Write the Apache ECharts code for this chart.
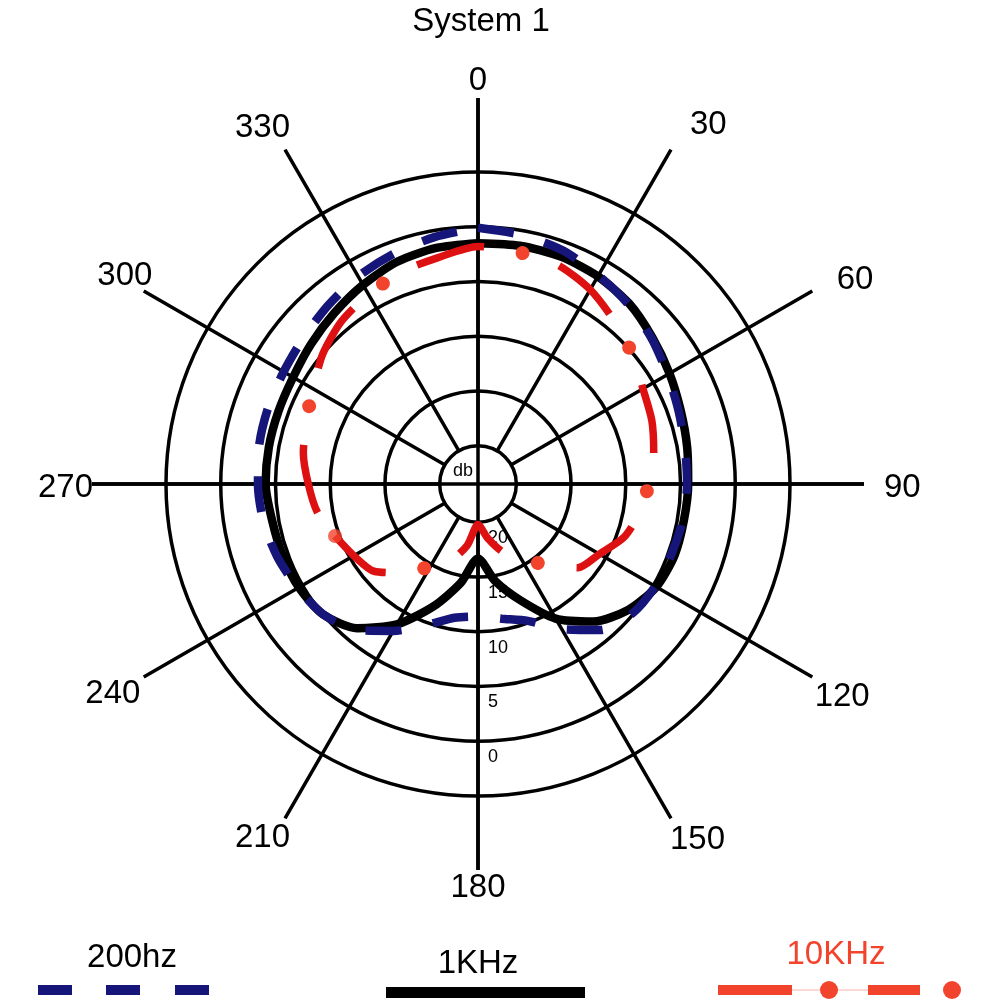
<!DOCTYPE html>
<html>
<head>
<meta charset="utf-8">
<script src="https://cdn.jsdelivr.net/npm/echarts@6/dist/echarts.min.js"></script>
<style>html,body{margin:0;padding:0;background:#fff}#c{width:1000px;height:1000px}</style>
</head>
<body>
<div id="c"></div>
<script>
// ---- data ----
const chartTitle = 'System 1';
const angles = [0,10,20,30,40,50,60,70,80,90,100,110,120,130,140,150,160,170,180,190,200,210,220,230,240,250,260,270,280,290,300,310,320,330,340,350,360];
const db200hz = [0.1,0.4,0.8,1.5,2.1,2.8,3.5,4.0,4.3,4.4,4.5,4.7,4.8,5.1,6.1,8.2,10.2,11.0,11.4,11.1,9.8,8.0,6.1,5.0,4.5,4.0,3.6,3.4,3.2,3.1,3.0,2.7,2.2,1.6,1.1,0.6,0.1];
const db1KHz  = [1.5,1.4,1.4,1.6,2.0,2.7,3.3,3.8,4.1,4.3,4.4,4.4,4.7,5.6,7.1,9.3,12.2,14.5,16.7,14.3,11.6,8.7,6.3,5.0,4.6,4.5,4.4,4.1,4.1,4.1,4.0,3.6,3.1,2.5,1.9,1.6,1.5];
const db10KHz = [1.8,2.0,2.2,3.0,4.1,5.1,6.1,6.6,7.2,7.9,8.5,9.3,10.7,11.6,13.9,15.6,16.9,18.5,19.8,17.8,16.0,14.8,12.9,11.1,10.4,9.6,8.6,8.0,7.3,6.8,6.1,5.0,4.1,3.5,2.9,2.5,1.8];
const seriesNames = ['200hz', '1KHz', '10KHz'];
const angleTickLabels = [0,30,60,90,120,150,180,210,240,270,300,330];
const dbTickLabels = [0,5,10,15,20];
const dbUnit = 'db';
const pattern10KHzStartAngle = 250;   // where the dash-dot pattern of the 10KHz trace begins

// ---- styling ----
const FONT = '"Liberation Sans", Arial, Helvetica, sans-serif';
const C = [478, 484];
const BLUE = '#15157a', RED = '#dd1111', RED_DOT = '#f2432d';
const BIG = 33;

const pairs = (vals, order) => order.map(i => [vals[i], angles[i]]);
const allIdx = angles.map((a, i) => i);
const s0 = angles.indexOf(pattern10KHzStartAngle);
const redIdx = allIdx.slice(s0, angles.length - 1).concat(allIdx.slice(0, s0 + 1));

// per-label padding [top,right,bottom,left] so that angle labels sit like the reference
const labelPad = {0:[0,0,11,0],30:[0,0,17,24],60:[0,0,0,33],90:[8,0,0,30],120:[8,0,0,11],150:[14,0,0,4],
  180:[11,0,0,0],210:[12,0,0,0],240:[5,12,0,0],270:[8,9,0,0],300:[0,0,4,0],330:[0,0,14,0]};
const angleRich = {};
angleTickLabels.forEach(v => {
  angleRich['a' + v] = { fontSize: BIG, fontFamily: FONT, color: '#000', padding: labelPad[v] };
});

const hiddenAxis = { axisLine:{show:false}, axisTick:{show:false}, axisLabel:{show:false}, splitLine:{show:false} };
const gridLine = { show:true, lineStyle:{ color:'#000', width:3.5 } };

const chart = echarts.init(document.getElementById('c'), null, { renderer:'canvas' });
chart.setOption({
  animation: false,
  backgroundColor: '#fff',
  title: {
    text: chartTitle, left: 476, textAlign: 'center', top: 0,
    textStyle: { fontFamily: FONT, fontSize: BIG, fontWeight: 'normal', color: '#000' }
  },
  polar: [
    { center: C, radius: [0, 386] },    // axes through centre
    { center: C, radius: [38, 386] },   // spokes + angle labels
    { center: C, radius: [0, 312] },    // data + rings
    { center: C, radius: [0, 312] }     // dB labels (downward)
  ],
  angleAxis: [
    Object.assign({ polarIndex:0, type:'value', min:0, max:360, interval:90, startAngle:90, clockwise:true }, hiddenAxis, { splitLine: gridLine }),
    Object.assign({ polarIndex:1, type:'value', min:0, max:360, interval:30, startAngle:90, clockwise:true }, hiddenAxis, {
      splitLine: gridLine,
      axisLabel: { show:true, margin:-10, color:'#000', fontFamily:FONT, fontSize:BIG, rich: angleRich,
        formatter: v => angleTickLabels.indexOf(v) >= 0 ? '{a' + v + '|' + v + '}' : '' }
    }),
    Object.assign({ polarIndex:2, type:'value', min:0, max:360, interval:30, startAngle:90, clockwise:true }, hiddenAxis),
    Object.assign({ polarIndex:3, type:'value', min:0, max:360, interval:30, startAngle:-90, clockwise:true }, hiddenAxis)
  ],
  radiusAxis: [
    Object.assign({ polarIndex:0, type:'value', min:0, max:1 }, hiddenAxis),
    Object.assign({ polarIndex:1, type:'value', min:0, max:1 }, hiddenAxis),
    Object.assign({ polarIndex:2, type:'value', inverse:true, min:-5, max:23.5, interval:5 }, hiddenAxis, { splitLine: gridLine }),
    Object.assign({ polarIndex:3, type:'value', inverse:true, min:-5, max:23.5, interval:5 }, hiddenAxis, {
      axisLabel: { show:true, margin:10, color:'#000', fontFamily:FONT, fontSize:18, align:'left', verticalAlign:'top', padding:[7,0,0,0],
        formatter: v => dbTickLabels.indexOf(v) >= 0 ? String(v) : '' }
    })
  ],
  series: [
    { name: seriesNames[1], type:'line', coordinateSystem:'polar', polarIndex:2, data: pairs(db1KHz, allIdx), symbol:'none', z:3, smooth:0.25,
      lineStyle:{ color:'#000', width:8.5 } },
    { name: seriesNames[2], type:'line', coordinateSystem:'polar', polarIndex:2, data: pairs(db10KHz, redIdx), symbol:'none', z:4, smooth:0.25,
      lineStyle:{ color:RED, width:7.5, type:[70,78], dashOffset:119, cap:'butt' } },
    { name: seriesNames[2], type:'line', coordinateSystem:'polar', polarIndex:2, data: pairs(db10KHz, redIdx), symbol:'none', z:5, smooth:0.25,
      lineStyle:{ color:RED_DOT, width:14, type:[0.01,147.99], dashOffset:10, cap:'round' } },
    { name: seriesNames[2], type:'scatter', coordinateSystem:'polar', polarIndex:2, data: [[db10KHz[s0], angles[s0]]], symbol:'circle', symbolSize:14, z:5,
      itemStyle:{ color:RED_DOT } },
    { name: seriesNames[0], type:'line', coordinateSystem:'polar', polarIndex:2, data: pairs(db200hz, allIdx), symbol:'none', z:6, smooth:0.25,
      lineStyle:{ color:BLUE, width:8.5, type:[36,32], dashOffset:0, cap:'butt' } }
  ],
  graphic: [
    { type:'text', x:463, y:471, z:10, style:{ text: dbUnit, font:'18px ' + FONT, fill:'#000', align:'center', verticalAlign:'middle', textAlign:'center', textVerticalAlign:'middle' } },
    // legend
    { type:'text', x:132, y:958, style:{ text: seriesNames[0], font: BIG + 'px ' + FONT, fill:'#000', align:'center', verticalAlign:'middle', textAlign:'center', textVerticalAlign:'middle' } },
    { type:'rect', shape:{ x:38, y:985, width:34, height:10 }, style:{ fill:BLUE } },
    { type:'rect', shape:{ x:106, y:985, width:34, height:10 }, style:{ fill:BLUE } },
    { type:'rect', shape:{ x:175, y:985, width:34, height:10 }, style:{ fill:BLUE } },
    { type:'text', x:478, y:964, style:{ text: seriesNames[1], font: BIG + 'px ' + FONT, fill:'#000', align:'center', verticalAlign:'middle', textAlign:'center', textVerticalAlign:'middle' } },
    { type:'rect', shape:{ x:386, y:987, width:199, height:11 }, style:{ fill:'#000' } },
    { type:'text', x:836, y:955, style:{ text: seriesNames[2], font: BIG + 'px ' + FONT, fill:RED_DOT, align:'center', verticalAlign:'middle', textAlign:'center', textVerticalAlign:'middle' } },
    { type:'line', shape:{ x1:792, y1:990, x2:868, y2:990 }, style:{ stroke:'#f6b3aa', lineWidth:1 } },
    { type:'rect', shape:{ x:718, y:985, width:74, height:10 }, style:{ fill:RED_DOT } },
    { type:'circle', shape:{ cx:829, cy:990, r:9 }, style:{ fill:RED_DOT } },
    { type:'rect', shape:{ x:868, y:985, width:52, height:10 }, style:{ fill:RED_DOT } },
    { type:'circle', shape:{ cx:952, cy:990, r:9 }, style:{ fill:RED_DOT } }
  ]
});
</script>
</body>
</html>
